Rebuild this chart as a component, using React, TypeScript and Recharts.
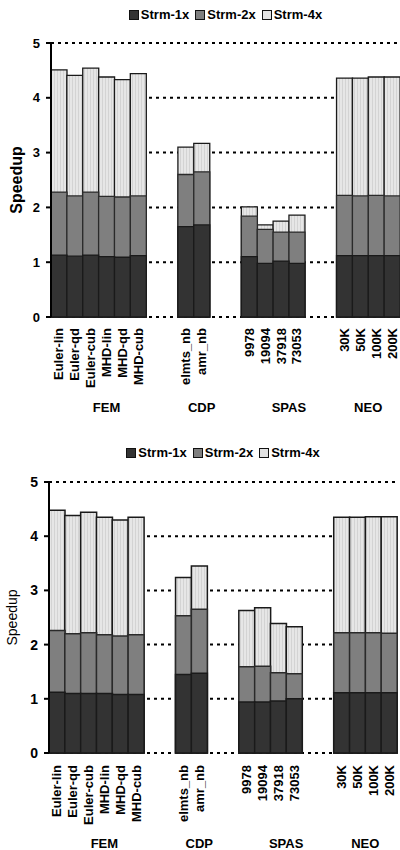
import React from 'react';
import { BarChart, Bar, XAxis, YAxis, CartesianGrid } from 'recharts';

const FONT = '"Liberation Sans", Arial, sans-serif';

const femCats = ['Euler-lin', 'Euler-qd', 'Euler-cub', 'MHD-lin', 'MHD-qd', 'MHD-cub'];
const cdpCats = ['elmts_nb', 'amr_nb'];
const spasCats = ['9978', '19094', '37918', '73053'];
const neoCats = ['30K', '50K', '100K', '200K'];
const groupNames = ['FEM', 'CDP', 'SPAS', 'NEO'];
const seriesNames = ['Strm-1x', 'Strm-2x', 'Strm-4x'];
const yTicks = [0, 1, 2, 3, 4, 5];

// top chart values (FEM, CDP, SPAS, NEO order)
const top1x = [1.13, 1.11, 1.13, 1.10, 1.09, 1.12, 1.65, 1.68, 1.10, 0.98, 1.02, 0.98, 1.12, 1.12, 1.12, 1.12];
const top2x = [2.28, 2.21, 2.28, 2.20, 2.19, 2.21, 2.60, 2.65, 1.84, 1.60, 1.55, 1.55, 2.22, 2.21, 2.22, 2.21];
const top4x = [4.51, 4.41, 4.54, 4.38, 4.33, 4.44, 3.10, 3.17, 2.01, 1.68, 1.75, 1.86, 4.36, 4.36, 4.38, 4.38];

// bottom chart values
const bot1x = [1.12, 1.10, 1.10, 1.10, 1.08, 1.08, 1.45, 1.47, 0.94, 0.94, 0.96, 1.00, 1.11, 1.11, 1.11, 1.11];
const bot2x = [2.26, 2.20, 2.22, 2.18, 2.16, 2.18, 2.53, 2.65, 1.59, 1.60, 1.48, 1.46, 2.22, 2.22, 2.22, 2.21];
const bot4x = [4.48, 4.38, 4.44, 4.35, 4.30, 4.35, 3.24, 3.45, 2.63, 2.68, 2.39, 2.33, 4.35, 4.35, 4.36, 4.36];

const groupCats = [femCats, cdpCats, spasCats, neoCats];
// which item of each group carries the group label, and its shift (px)
const groupAnchor = [
  { item: 3, dx: 0 },
  { item: 1, dx: 0 },
  { item: 3, dx: -8 },
  { item: 2, dx: -8 },
];

type Row = { name: string; s1: number | null; s2: number | null; s4: number | null };

function buildRows(v1: number[], v2: number[], v4: number[]): Row[] {
  const rows: Row[] = [];
  let k = 0;
  groupCats.forEach((cats, gi) => {
    if (gi > 0) {
      rows.push({ name: `_g${gi}a`, s1: null, s2: null, s4: null });
      rows.push({ name: `_g${gi}b`, s1: null, s2: null, s4: null });
    }
    cats.forEach((c) => {
      rows.push({ name: c, s1: v1[k], s2: v2[k], s4: v4[k] });
      k++;
    });
  });
  return rows;
}

const groupLabelMap: Record<string, { label: string; dx: number }> = {};
groupCats.forEach((cats, gi) => {
  const a = groupAnchor[gi];
  groupLabelMap[cats[a.item]] = { label: groupNames[gi], dx: a.dx };
});

const makeTick = (labelTop: number, groupBase: number) => (props: any) => {
  const { x, y, payload } = props;
  const v: string = String(payload.value);
  if (v.startsWith('_')) return <g />;
  const g = groupLabelMap[v];
  return (
    <g>
      <g transform={`translate(${x},${y + labelTop}) rotate(-90)`}>
        <text
          textAnchor="end"
          dy="0.35em"
          fontFamily={FONT}
          fontSize={13}
          fontWeight="bold"
          fill="#000"
        >
          {v}
        </text>
      </g>
      {g && (
        <text
          x={x + g.dx}
          y={y + groupBase}
          textAnchor="middle"
          fontFamily={FONT}
          fontSize={13}
          fontWeight="bold"
          fill="#000"
        >
          {g.label}
        </text>
      )}
    </g>
  );
};

const Legend = ({ left, width, top }: { left: number; width: number; top: number }) => {
  const fills = ['#333333', '#7f7f7f', '#e2e2e2'];
  return (
    <div
      style={{
        position: 'absolute',
        left,
        width,
        top,
        display: 'flex',
        justifyContent: 'center',
        alignItems: 'center',
        fontFamily: FONT,
        fontSize: 13,
        fontWeight: 'bold',
        color: '#000',
        lineHeight: '15px',
      }}
    >
      {seriesNames.map((s, i) => (
        <div key={s} style={{ display: 'flex', alignItems: 'center', marginRight: i < 2 ? 6 : 0 }}>
          <div
            style={{
              width: 8,
              height: 8,
              background: fills[i],
              border: '1px solid #111',
              marginRight: 2,
            }}
          />
          <span>{s}</span>
        </div>
      ))}
    </div>
  );
};

type ChartProps = {
  rows: Row[];
  id: string;
  height: number;
  margin: { top: number; right: number; bottom: number; left: number };
  yWidth: number;
  xHeight: number;
  tickFont: number;
  labelTop: number;
  groupBase: number;
  yLabel: { x: number; size: number; weight: string };
  strokeW: number;
};

const SpeedChart = (p: ChartProps) => {
  const Tick = makeTick(p.labelTop, p.groupBase);
  return (
    <BarChart
      width={400}
      height={p.height}
      data={p.rows}
      margin={p.margin}
      barCategoryGap={0}
      barGap={0}
    >
      <defs>
        <pattern id={`stripe-${p.id}`} width="3" height="4" patternUnits="userSpaceOnUse">
          <rect width="3" height="4" fill="#e6e6e6" />
          <rect width="1" height="4" fill="#d3d3d3" />
        </pattern>
      </defs>
      <CartesianGrid
        xAxisId="xa"
        vertical={false}
        stroke="#000"
        strokeWidth={2}
        strokeDasharray="3 4"
      />
      <XAxis
        xAxisId="xa"
        dataKey="name"
        interval={0}
        axisLine={false}
        tickLine={false}
        tickSize={0}
        tickMargin={0}
        height={p.xHeight}
        tick={<Tick />}
      />
      <XAxis xAxisId="xb" dataKey="name" hide height={0} />
      <XAxis xAxisId="xc" dataKey="name" hide height={0} />
      <YAxis
        domain={[0, 5]}
        ticks={yTicks}
        width={p.yWidth}
        interval={0}
        axisLine={{ stroke: '#000', strokeWidth: 2 }}
        tickLine={{ stroke: '#000', strokeWidth: 2 }}
        tickSize={5}
        tickMargin={6}
        tick={{ fill: '#000', fontSize: p.tickFont, fontWeight: 'bold', fontFamily: FONT }}
        label={{
          content: (lp: any) => {
            const vb = lp.viewBox || {};
            const cy = (vb.y || 0) + (vb.height || 0) / 2;
            return (
              <text
                transform={`translate(${p.yLabel.x},${cy}) rotate(-90)`}
                textAnchor="middle"
                fontFamily={FONT}
                fontSize={p.yLabel.size}
                fontWeight={p.yLabel.weight}
                fill="#000"
                stroke="none"
              >
                Speedup
              </text>
            );
          },
        }}
      />
      <Bar
        xAxisId="xa"
        dataKey="s4"
        name={seriesNames[2]}
        fill={`url(#stripe-${p.id})`}
        stroke="#1a1a1a"
        strokeWidth={p.strokeW}
        isAnimationActive={false}
      />
      <Bar
        xAxisId="xb"
        dataKey="s2"
        name={seriesNames[1]}
        fill="#7f7f7f"
        stroke="#2a2a2a"
        strokeWidth={p.strokeW}
        isAnimationActive={false}
      />
      <Bar
        xAxisId="xc"
        dataKey="s1"
        name={seriesNames[0]}
        fill="#333333"
        stroke="#1a1a1a"
        strokeWidth={p.strokeW}
        isAnimationActive={false}
      />
    </BarChart>
  );
};

export default function App() {
  const topRows = buildRows(top1x, top2x, top4x);
  const botRows = buildRows(bot1x, bot2x, bot4x);
  return (
    <div style={{ position: 'absolute', left: 0, top: 0, width: 400, height: 850, background: '#fff' }}>
      <div style={{ position: 'absolute', left: 0, top: 0 }}>
        <SpeedChart
          rows={topRows}
          id="top"
          height={420}
          margin={{ top: 43, right: 0, bottom: 3, left: 0 }}
          yWidth={51}
          xHeight={100}
          tickFont={13}
          labelTop={11}
          groupBase={95}
          yLabel={{ x: 22, size: 16, weight: 'bold' }}
          strokeW={1.3}
        />
      </div>
      <Legend left={51} width={349} top={7} />
      <div style={{ position: 'absolute', left: 0, top: 420 }}>
        <SpeedChart
          rows={botRows}
          id="bot"
          height={430}
          margin={{ top: 62, right: 3, bottom: 2, left: 0 }}
          yWidth={49}
          xHeight={95}
          tickFont={14}
          labelTop={12}
          groupBase={95}
          yLabel={{ x: 17, size: 14, weight: 'normal' }}
          strokeW={1.5}
        />
      </div>
      <Legend left={49} width={348} top={445} />
    </div>
  );
}
